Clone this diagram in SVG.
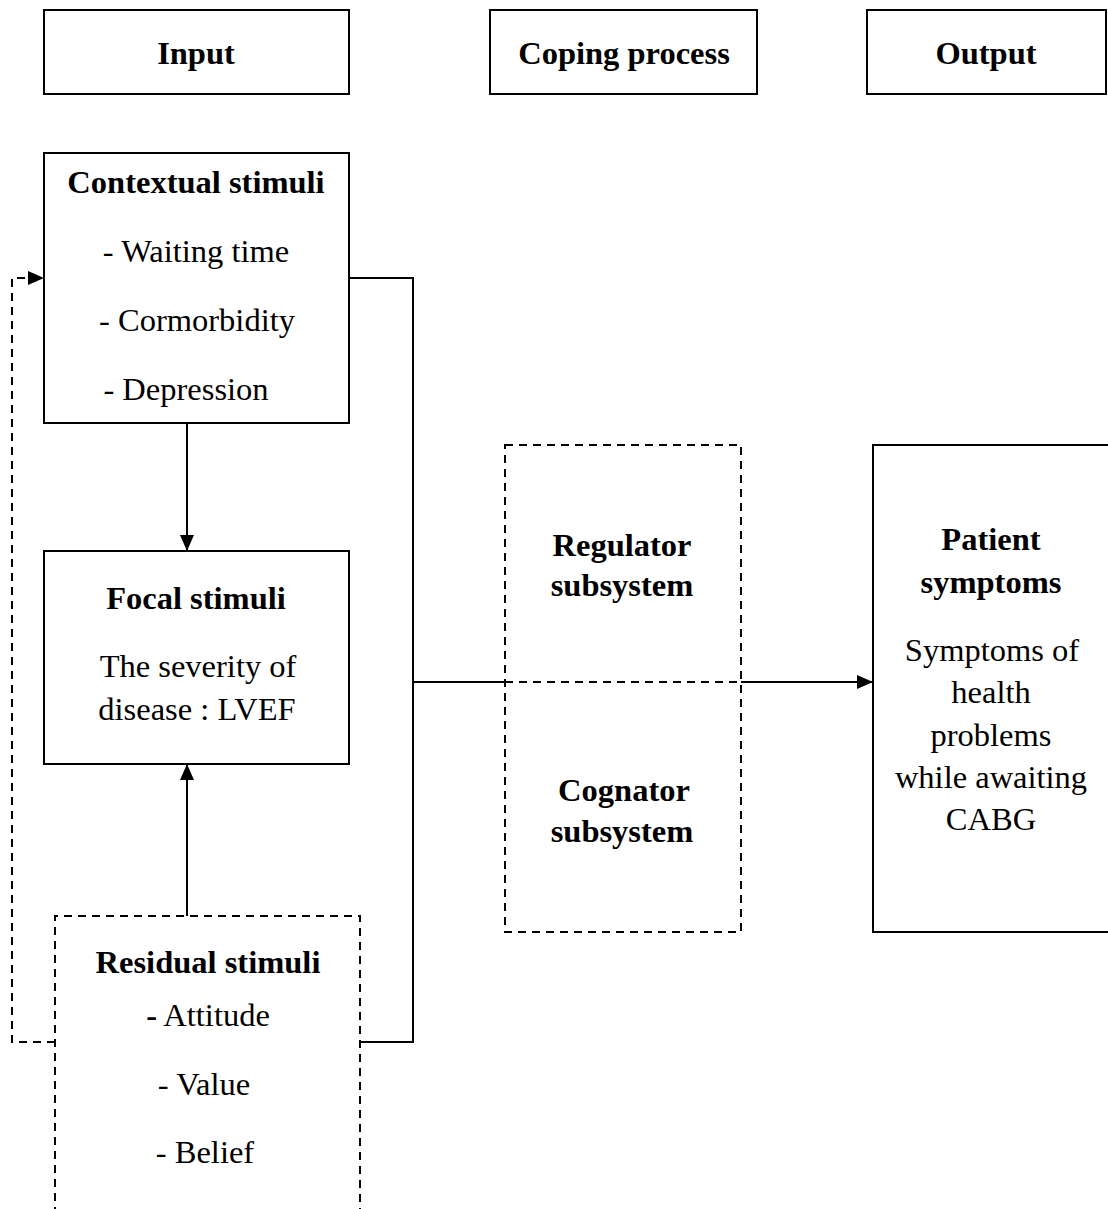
<svg xmlns="http://www.w3.org/2000/svg" width="1108" height="1209" viewBox="0 0 1108 1209">
<style>
.box{fill:#fff;stroke:#000;stroke-width:2}
.dbox{fill:none;stroke:#000;stroke-width:2;stroke-dasharray:8,6}
.ln{fill:none;stroke:#000;stroke-width:2}
.dln{fill:none;stroke:#000;stroke-width:2;stroke-dasharray:8,6}
text{font-family:"Liberation Serif","Times New Roman",serif;font-size:32.5px;fill:#000;text-anchor:middle}
.b{font-weight:bold}
</style>
<defs>
<marker id="ah" viewBox="0 0 16 14" refX="16" refY="7" markerWidth="16" markerHeight="14" markerUnits="userSpaceOnUse" orient="auto">
<path d="M0,0 L16,7 L0,14 Z" fill="#000"/>
</marker>
</defs>
<rect width="1108" height="1209" fill="#fff"/>
<g id="connectors">
<path class="ln" d="M187,423 V551" marker-end="url(#ah)"/>
<path class="ln" d="M187,916 V764" marker-end="url(#ah)"/>
<path class="ln" d="M349,278 H413 V1042 H360"/>
<path class="ln" d="M413,682 H505"/>
<path class="dln" d="M505,682 H741"/>
<path class="ln" d="M741,682 H873" marker-end="url(#ah)"/>
<path class="dln" d="M55,1042 H12 V278 H44" marker-end="url(#ah)"/>
</g>
<g id="input">
<rect class="box" x="44" y="10" width="305" height="84"/>
<text class="b" x="196" y="64">Input</text>
</g>
<g id="coping">
<rect class="box" x="490" y="10" width="267" height="84"/>
<text class="b" x="624" y="64">Coping process</text>
</g>
<g id="output">
<rect class="box" x="867" y="10" width="239" height="84"/>
<text class="b" x="986" y="64">Output</text>
</g>
<g id="contextual">
<rect class="box" x="44" y="153" width="305" height="270"/>
<text class="b" x="196" y="193">Contextual stimuli</text>
<text x="196" y="262">- Waiting time</text>
<text x="197" y="331">- Cormorbidity</text>
<text x="186" y="400">- Depression</text>
</g>
<g id="focal">
<rect class="box" x="44" y="551" width="305" height="213"/>
<text class="b" x="196" y="609">Focal stimuli</text>
<text x="198" y="677">The severity of</text>
<text x="197" y="720">disease : LVEF</text>
</g>
<g id="residual">
<path class="dbox" d="M55,1215 V916 H360 V1215"/>
<text class="b" x="208" y="973">Residual stimuli</text>
<text x="208" y="1026"><tspan class="b">-</tspan> Attitude</text>
<text x="204" y="1095">- Value</text>
<text x="205" y="1163">- Belief</text>
</g>
<g id="coping-subsystems">
<rect class="dbox" x="505" y="445" width="236" height="487"/>
<text class="b" x="622" y="556">Regulator</text>
<text class="b" x="622" y="596">subsystem</text>
<text class="b" x="624" y="801">Cognator</text>
<text class="b" x="622" y="842">subsystem</text>
</g>
<g id="patient">
<path class="box" d="M1112,445 H873 V932 H1112"/>
<text class="b" x="991" y="550">Patient</text>
<text class="b" x="991" y="593">symptoms</text>
<text x="992" y="661">Symptoms of</text>
<text x="991" y="703">health</text>
<text x="991" y="746">problems</text>
<text x="991" y="788">while awaiting</text>
<text x="991" y="830">CABG</text>
</g>
</svg>
